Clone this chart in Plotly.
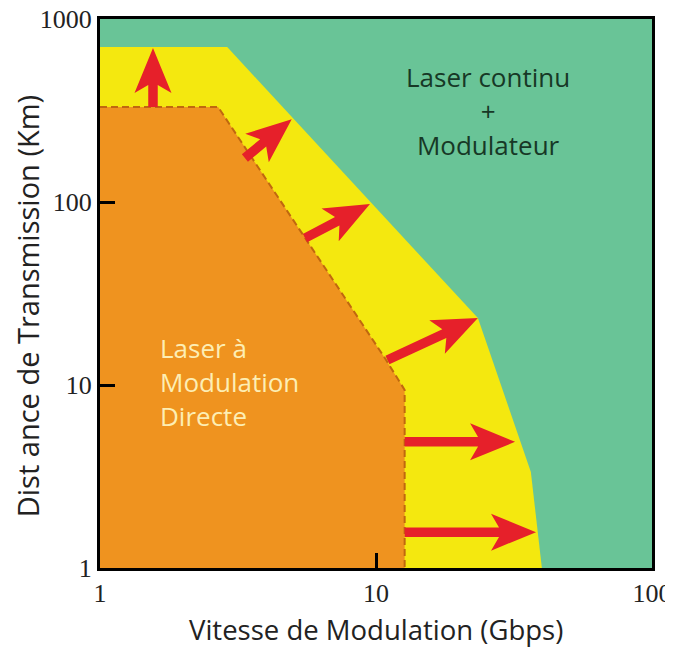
import numpy as np
import plotly.graph_objects as go

# ---------------- data ----------------
yellow_x = [1, 2.89, 23.4, 36.4, 39.9, 1]
yellow_y = [703, 703, 23.2, 3.35, 1, 1]

orange_x = [1, 2.68, 10.78, 12.7, 12.7, 1]
orange_y = [330, 330, 14.0, 9.4, 1, 1]

boundary_x = [1, 2.68, 10.78, 12.7, 12.7]
boundary_y = [330, 330, 14.0, 9.4, 1]

arrow_x0 = [1.556, 3.35, 5.53, 11.0, 12.7, 12.7]
arrow_y0 = [330, 174, 63.5, 13.7, 4.89, 1.57]
arrow_x1 = [1.556, 4.95, 9.51, 23.4, 31.9, 38.0]
arrow_y1 = [695, 283, 97.5, 23.2, 4.89, 1.57]

x_ticks = [1, 10, 100]
y_ticks = [1, 10, 100, 1000]

label_cw = dict(x=25.5, y=314, text="Laser continu<br>+<br>Modulateur")
label_dm = dict(x=1.62, y=10.4, text="Laser à<br>Modulation<br>Directe")

# ---------------- layout constants ----------------
PAGE_OFFSET = 8            # default body margin of the html page
W, H = 673 - PAGE_OFFSET, 648 - PAGE_OFFSET
M = dict(l=100 - PAGE_OFFSET, r=21, t=19 - PAGE_OFFSET, b=80)
PW = W - M["l"] - M["r"]
PH = H - M["t"] - M["b"]
PX_X = PW / 2.0   # px per decade
PX_Y = PH / 3.0

GREEN = "#69c497"
YELLOW = "#f4e80f"
ORANGE = "#ef931f"
RED = "#e6202a"
DASH = "#c0670f"


def arrow_poly(x0, y0, x1, y1, shaft=9.5, head_len=45, head_half=18.5, sweep=8):
    u0, v0 = np.log10(x0) * PX_X, np.log10(y0) * PX_Y
    u1, v1 = np.log10(x1) * PX_X, np.log10(y1) * PX_Y
    d = np.array([u1 - u0, v1 - v0])
    L = np.hypot(*d)
    d = d / L
    n = np.array([-d[1], d[0]])
    local = [(-L, -shaft / 2), (-head_len + sweep, -shaft / 2), (-head_len, -head_half),
             (0, 0), (-head_len, head_half), (-head_len + sweep, shaft / 2), (-L, shaft / 2)]
    xs, ys = [], []
    for a, b in local:
        p = np.array([u1, v1]) + a * d + b * n
        xs.append(10 ** (p[0] / PX_X))
        ys.append(10 ** (p[1] / PX_Y))
    xs.append(xs[0]); ys.append(ys[0])
    return xs, ys


fig = go.Figure()
fig.add_trace(go.Scatter(x=yellow_x, y=yellow_y, fill="toself", fillcolor=YELLOW,
                         mode="lines", line=dict(width=0), hoverinfo="skip"))
fig.add_trace(go.Scatter(x=orange_x, y=orange_y, fill="toself", fillcolor=ORANGE,
                         mode="lines", line=dict(width=0), hoverinfo="skip"))
fig.add_trace(go.Scatter(x=boundary_x, y=boundary_y, mode="lines",
                         line=dict(color=DASH, width=2, dash="7px,4px"), hoverinfo="skip"))
for x0, y0, x1, y1 in zip(arrow_x0, arrow_y0, arrow_x1, arrow_y1):
    ax, ay = arrow_poly(x0, y0, x1, y1)
    fig.add_trace(go.Scatter(x=ax, y=ay, fill="toself", fillcolor=RED, mode="lines",
                             line=dict(width=0), hoverinfo="skip"))

TXT_FONT = "Open Sans"
fig.add_annotation(x=np.log10(label_cw["x"]), y=np.log10(label_cw["y"]), text=label_cw["text"],
                   showarrow=False, align="center", xanchor="center", yanchor="middle",
                   font=dict(family=TXT_FONT, size=26, color="#173826"))
fig.add_annotation(x=np.log10(label_dm["x"]), y=np.log10(label_dm["y"]), text=label_dm["text"],
                   showarrow=False, align="left", xanchor="left", yanchor="middle",
                   font=dict(family=TXT_FONT, size=26, color="#fdeeb4"))

fig.add_annotation(xref="paper", yref="paper", x=0.5, y=-0.112, text="Vitesse de Modulation (Gbps)",
                   showarrow=False, xanchor="center", yanchor="middle",
                   font=dict(family=TXT_FONT, size=27.5, color="#222222"))
fig.add_annotation(xref="paper", yref="paper", x=-0.132, y=0.477, text="Dist ance de Transmission (Km)",
                   showarrow=False, xanchor="center", yanchor="middle", textangle=-90,
                   font=dict(family=TXT_FONT, size=29, color="#222222"))

axis_common = dict(type="log", showgrid=False, zeroline=False, showline=True, linewidth=3,
                   linecolor="black", mirror=True, ticks="inside", ticklen=15, tickwidth=3,
                   tickcolor="black", automargin=False, ticklabeloverflow="allow",
                   tickfont=dict(family="Liberation Serif", size=26, color="#222222"))
fig.update_xaxes(range=[np.log10(x_ticks[0]), np.log10(x_ticks[-1])], tickvals=x_ticks,
                 ticktext=[str(v) for v in x_ticks], **axis_common)
fig.update_yaxes(range=[np.log10(y_ticks[0]), np.log10(y_ticks[-1])], tickvals=y_ticks,
                 ticktext=[str(v) for v in y_ticks], **axis_common)

fig.update_layout(width=W, height=H, margin=M, plot_bgcolor=GREEN, paper_bgcolor="white",
                  showlegend=False)
fig.write_html("out.html")
